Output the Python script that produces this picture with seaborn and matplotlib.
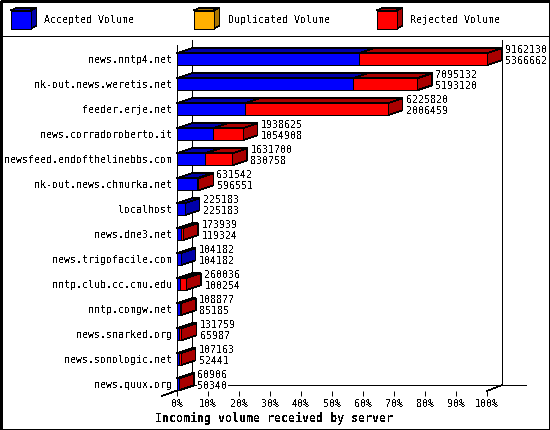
import numpy as np
import pandas as pd
import seaborn as sns
from matplotlib import pyplot as plt
from matplotlib.patches import Polygon

servers = ["news.nntp4.net", "nk-out.news.weretis.net", "feeder.erje.net", "news.corradoroberto.it",
           "newsfeed.endofthelinebbs.com", "nk-out.news.chmurka.net", "localhost", "news.dne3.net",
           "news.trigofacile.com", "nntp.club.cc.cmu.edu", "nntp.comgw.net", "news.snarked.org",
           "news.sonologic.net", "news.quux.org"]
total_volume = [9162130, 7095132, 6225820, 1938625, 1631700, 631542, 225183,
                173939, 104182, 260036, 108877, 131759, 107163, 60906]
accepted_volume = [5366662, 5193120, 2006459, 1054908, 830758, 596551, 225183,
                   119324, 104182, 100254, 85185, 65987, 52441, 50340]
legend_names = ["Accepted Volume", "Duplicated Volume", "Rejected Volume"]
tick_values = [0, 10, 20, 30, 40, 50, 60, 70, 80, 90, 100]

BLUE, BLUE_DK = "#0000ff", "#0000aa"
GOLD, GOLD_DK = "#ffb000", "#aa7500"
RED, RED_DK = "#ff0000", "#aa0000"

sns.set_theme(style="white")
plt.rcParams.update({"text.antialiased": False, "lines.antialiased": False, "patch.antialiased": False,
                     "font.family": ["DejaVu Sans Mono"], "font.size": 7.2, "text.color": "black",
                     "axes.labelcolor": "black", "xtick.color": "black", "ytick.color": "black"})

W, H = 550, 430
LW = 0.72
THIN = 0.5
fig = plt.figure(figsize=(5.5, 4.3), dpi=100)

# background layer in pixel coords, frame and legend
bg = fig.add_axes([0, 0, 1, 1], zorder=0)
bg.set_xlim(0, W)
bg.set_ylim(H, 0)
bg.axis("off")
bg.add_patch(plt.Rectangle((0.5, 0.5), W - 1, H - 1, fill=False, ec="black", lw=LW * 1.4))
bg.plot([0, W], [35.5, 35.5], color="black", lw=LW)


def cube(a, x0, x1, y0, y1, dx, dy, front, dark):
    a.add_patch(Polygon([(x0, y0), (x0 + dx, y0 - dy), (x1 + dx, y0 - dy), (x1, y0)], fc=dark, ec="black", lw=THIN))
    a.add_patch(Polygon([(x1, y0), (x1 + dx, y0 - dy), (x1 + dx, y1 - dy), (x1, y1)], fc=dark, ec="black", lw=THIN))
    a.add_patch(plt.Rectangle((x0, y0), x1 - x0, y1 - y0, fc=front, ec="black", lw=LW))


for name, lx, c, d in zip(legend_names, [10.5, 193.5, 376.5], [BLUE, GOLD, RED], [BLUE_DK, GOLD_DK, RED_DK]):
    cube(bg, lx, lx + 20, 10.5, 28.5, 6, 2.5, c, d)
    bg.text(lx + 34, 20, name, ha="left", va="center", fontsize=7.2)

# main axes: 0-100% runs over px 177-487, rows are 25px apart
ax = fig.add_axes([177 / W, 1 - 391 / H, 310 / W, 351 / H], zorder=1)
ax.patch.set_alpha(0)

df = pd.DataFrame({"server": servers, "total": total_volume, "accepted": accepted_volume})
top = df["total"].max()
df["total_pct"] = df["total"] / top * 100
df["accepted_pct"] = df["accepted"] / top * 100

BAR_H = 12 / 25
DX = 15 / 3.1
DY = 5 / 25

sns.barplot(data=df, y="server", x="total_pct", orient="h", color=RED, saturation=1, width=BAR_H,
            edgecolor="black", linewidth=LW, ax=ax, zorder=3)
sns.barplot(data=df, y="server", x="accepted_pct", orient="h", color=BLUE, saturation=1, width=BAR_H,
            edgecolor="black", linewidth=LW, ax=ax, zorder=3)

for i, row in df.iterrows():
    y0, y1 = i - BAR_H / 2, i + BAR_H / 2
    a, t = row["accepted_pct"], row["total_pct"]
    # top faces, blue then red, then the end face
    ax.add_patch(Polygon([(0, y0), (DX, y0 - DY), (a + DX, y0 - DY), (a, y0)], fc=BLUE_DK, ec="black", lw=THIN, zorder=2, clip_on=False))
    if t > a:
        ax.add_patch(Polygon([(a, y0), (a + DX, y0 - DY), (t + DX, y0 - DY), (t, y0)], fc=RED_DK, ec="black", lw=THIN, zorder=2, clip_on=False))
    side = RED_DK if t > a else BLUE_DK
    ax.add_patch(Polygon([(t, y0), (t + DX, y0 - DY), (t + DX, y1 - DY), (t, y1)], fc=side, ec="black", lw=THIN, zorder=2, clip_on=False))
    lab_x = t + DX + 3.5 / 3.1
    ax.text(lab_x, i - 9.3 / 25, str(row["total"]), ha="left", va="center", fontsize=7.2, zorder=4, clip_on=False)
    ax.text(lab_x, i + 1.7 / 25, str(row["accepted"]), ha="left", va="center", fontsize=7.2, zorder=4, clip_on=False,
            bbox=dict(fc="white", ec="none", pad=0.3))

ax.set_xlim(0, 100)
ax.set_ylim((391 - 59.3) / 25, (40 - 59.3) / 25)

y_bottom = ax.get_ylim()[0]
y_top = ax.get_ylim()[1]
floor = y_bottom - DY - 0.04
# back wall and floor lines
ax.plot([DX, DX], [y_top, floor], color="black", lw=LW, zorder=1, clip_on=False)
ax.plot([100 + DX, 100 + DX], [y_top, floor], color="black", lw=LW, zorder=1, clip_on=False)
ax.plot([DX, 100 + DX + 7.6], [floor, floor], color="black", lw=LW, zorder=1, clip_on=False)
ax.plot([100, 100 + DX], [y_bottom, floor], color="black", lw=THIN, zorder=1, clip_on=False)
ax.plot([-DX, DX], [y_bottom + DY, floor], color="black", lw=THIN, zorder=1, clip_on=False)

sns.despine(ax=ax, top=True, right=True, bottom=True)
ax.spines["left"].set_color("black")
ax.spines["left"].set_linewidth(LW)
ax.spines["left"].set_bounds(y_bottom, (45 - 59.3) / 25)

ax.set_xticks(tick_values)
ax.set_xticklabels([f"{v}%" for v in tick_values])
ax.tick_params(axis="x", length=3.6, width=LW, pad=2.5, labelsize=7.2, bottom=True)
ax.tick_params(axis="y", length=0, pad=3.5, labelsize=7.2, left=False)
ax.set_ylabel("")
ax.set_xlabel("Incoming volume received by server", fontsize=8.4, fontweight="bold",
              labelpad=2, x=(274 - 177) / 310)

fig.savefig("out.png", dpi=100)
plt.close(fig)
